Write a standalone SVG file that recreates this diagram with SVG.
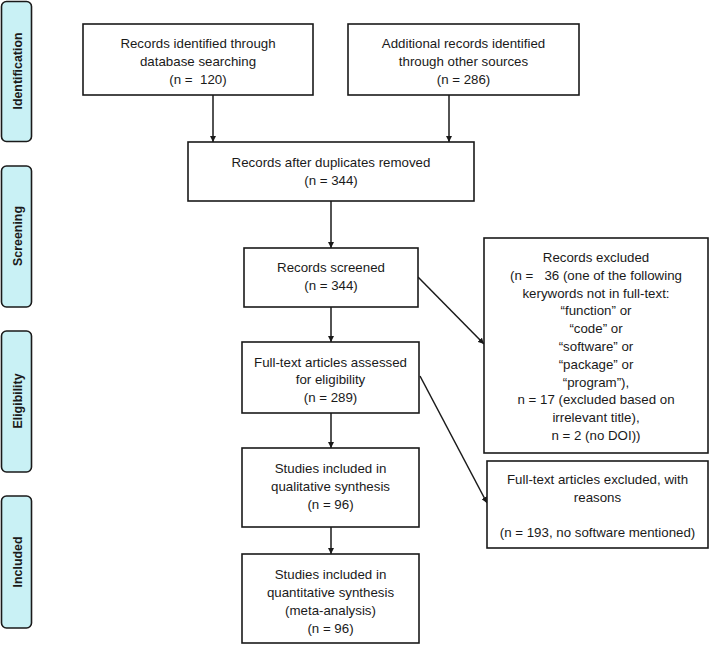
<svg xmlns="http://www.w3.org/2000/svg" width="710" height="645" viewBox="0 0 710 645">
<style>
.box{fill:#fff;stroke:#1a1a1a;stroke-width:1.6}
.side{fill:#c9f1f5;stroke:#1a1a1a;stroke-width:1.6}
text{font-family:"Liberation Sans",Arial,sans-serif;font-size:13.3px;fill:#1a1a1a;text-anchor:middle;white-space:pre}
.lab{font-weight:bold;font-size:12.4px}
.c{stroke:#1a1a1a;stroke-width:1.5;fill:none;marker-end:url(#ah)}
</style>
<defs>
<marker id="ah" viewBox="0 0 10 10" refX="10" refY="5" markerWidth="6" markerHeight="6" markerUnits="userSpaceOnUse" orient="auto"><path d="M0,0L10,5L0,10z" fill="#1a1a1a"/></marker>
</defs>
<rect width="710" height="645" fill="#fff"/>
<g id="side-identification"><rect class="side" x="1.5" y="1.5" width="30" height="140" rx="5"/><text class="lab" transform="translate(22,71) rotate(-90)">Identification</text></g>
<g id="side-screening"><rect class="side" x="1.5" y="166" width="30" height="141" rx="5"/><text class="lab" transform="translate(22,236) rotate(-90)">Screening</text></g>
<g id="side-eligibility"><rect class="side" x="1.5" y="331" width="30" height="141" rx="5"/><text class="lab" transform="translate(22,401) rotate(-90)">Eligibility</text></g>
<g id="side-included"><rect class="side" x="1.5" y="496" width="30" height="132" rx="5"/><text class="lab" transform="translate(22,562) rotate(-90)">Included</text></g>
<g id="connectors">
<line class="c" x1="213" y1="95" x2="213" y2="142"/>
<line class="c" x1="449" y1="95" x2="449" y2="142"/>
<line class="c" x1="331" y1="201" x2="331" y2="248"/>
<line class="c" x1="331" y1="307" x2="331" y2="342"/>
<line class="c" x1="331" y1="413" x2="331" y2="448"/>
<line class="c" x1="331" y1="527" x2="331" y2="554"/>
<line class="c" x1="418" y1="277" x2="484" y2="344"/>
<line class="c" x1="420" y1="376" x2="487" y2="503"/>
</g>
<g id="n1"><rect class="box" x="83" y="24" width="230" height="71"/><text x="198" y="47.5">Records identified through</text><text x="198" y="65.5">database searching</text><text x="198" y="84">(n =  120)</text></g>
<g id="n2"><rect class="box" x="348" y="24" width="231" height="71"/><text x="463.5" y="47.5">Additional records identified</text><text x="463.5" y="65.5">through other sources</text><text x="463.5" y="84">(n = 286)</text></g>
<g id="n3"><rect class="box" x="188" y="142" width="286" height="59"/><text x="331" y="166.5">Records after duplicates removed</text><text x="331" y="184.5">(n = 344)</text></g>
<g id="n4"><rect class="box" x="244" y="248" width="174" height="59"/><text x="331" y="271.5">Records screened</text><text x="331" y="289.5">(n = 344)</text></g>
<g id="n5"><rect class="box" x="242" y="342" width="177" height="71"/><text x="330.5" y="366.5">Full-text articles assessed</text><text x="330.5" y="383.5">for eligibility</text><text x="330.5" y="401.5">(n = 289)</text></g>
<g id="n6"><rect class="box" x="242" y="448" width="177" height="79"/><text x="330.5" y="472.5">Studies included in</text><text x="330.5" y="490.5">qualitative synthesis</text><text x="330.5" y="508.5">(n = 96)</text></g>
<g id="n7"><rect class="box" x="242" y="554" width="177" height="89"/><text x="330.5" y="578.5">Studies included in</text><text x="330.5" y="596.5">quantitative synthesis</text><text x="330.5" y="615">(meta-analysis)</text><text x="330.5" y="632.5">(n = 96)</text></g>
<g id="n8"><rect class="box" x="484" y="238" width="224" height="215"/>
<text x="596" y="261.5">Records excluded</text>
<text x="596" y="279.5">(n =   36 (one of the following</text>
<text x="596" y="297.5">kerywords not in full-text:</text>
<text x="596" y="315">“function” or</text>
<text x="596" y="333">“code” or</text>
<text x="596" y="351">“software” or</text>
<text x="596" y="368.5">“package” or</text>
<text x="596" y="386.5">“program”),</text>
<text x="596" y="404">n = 17 (excluded based on</text>
<text x="596" y="422">irrelevant title),</text>
<text x="596" y="439.5">n = 2 (no DOI))</text></g>
<g id="n9"><rect class="box" x="487" y="461" width="221" height="87"/><text x="597.5" y="483.5">Full-text articles excluded, with</text><text x="597.5" y="501.5">reasons</text><text x="597.5" y="536.5">(n = 193, no software mentioned)</text></g>
</svg>
